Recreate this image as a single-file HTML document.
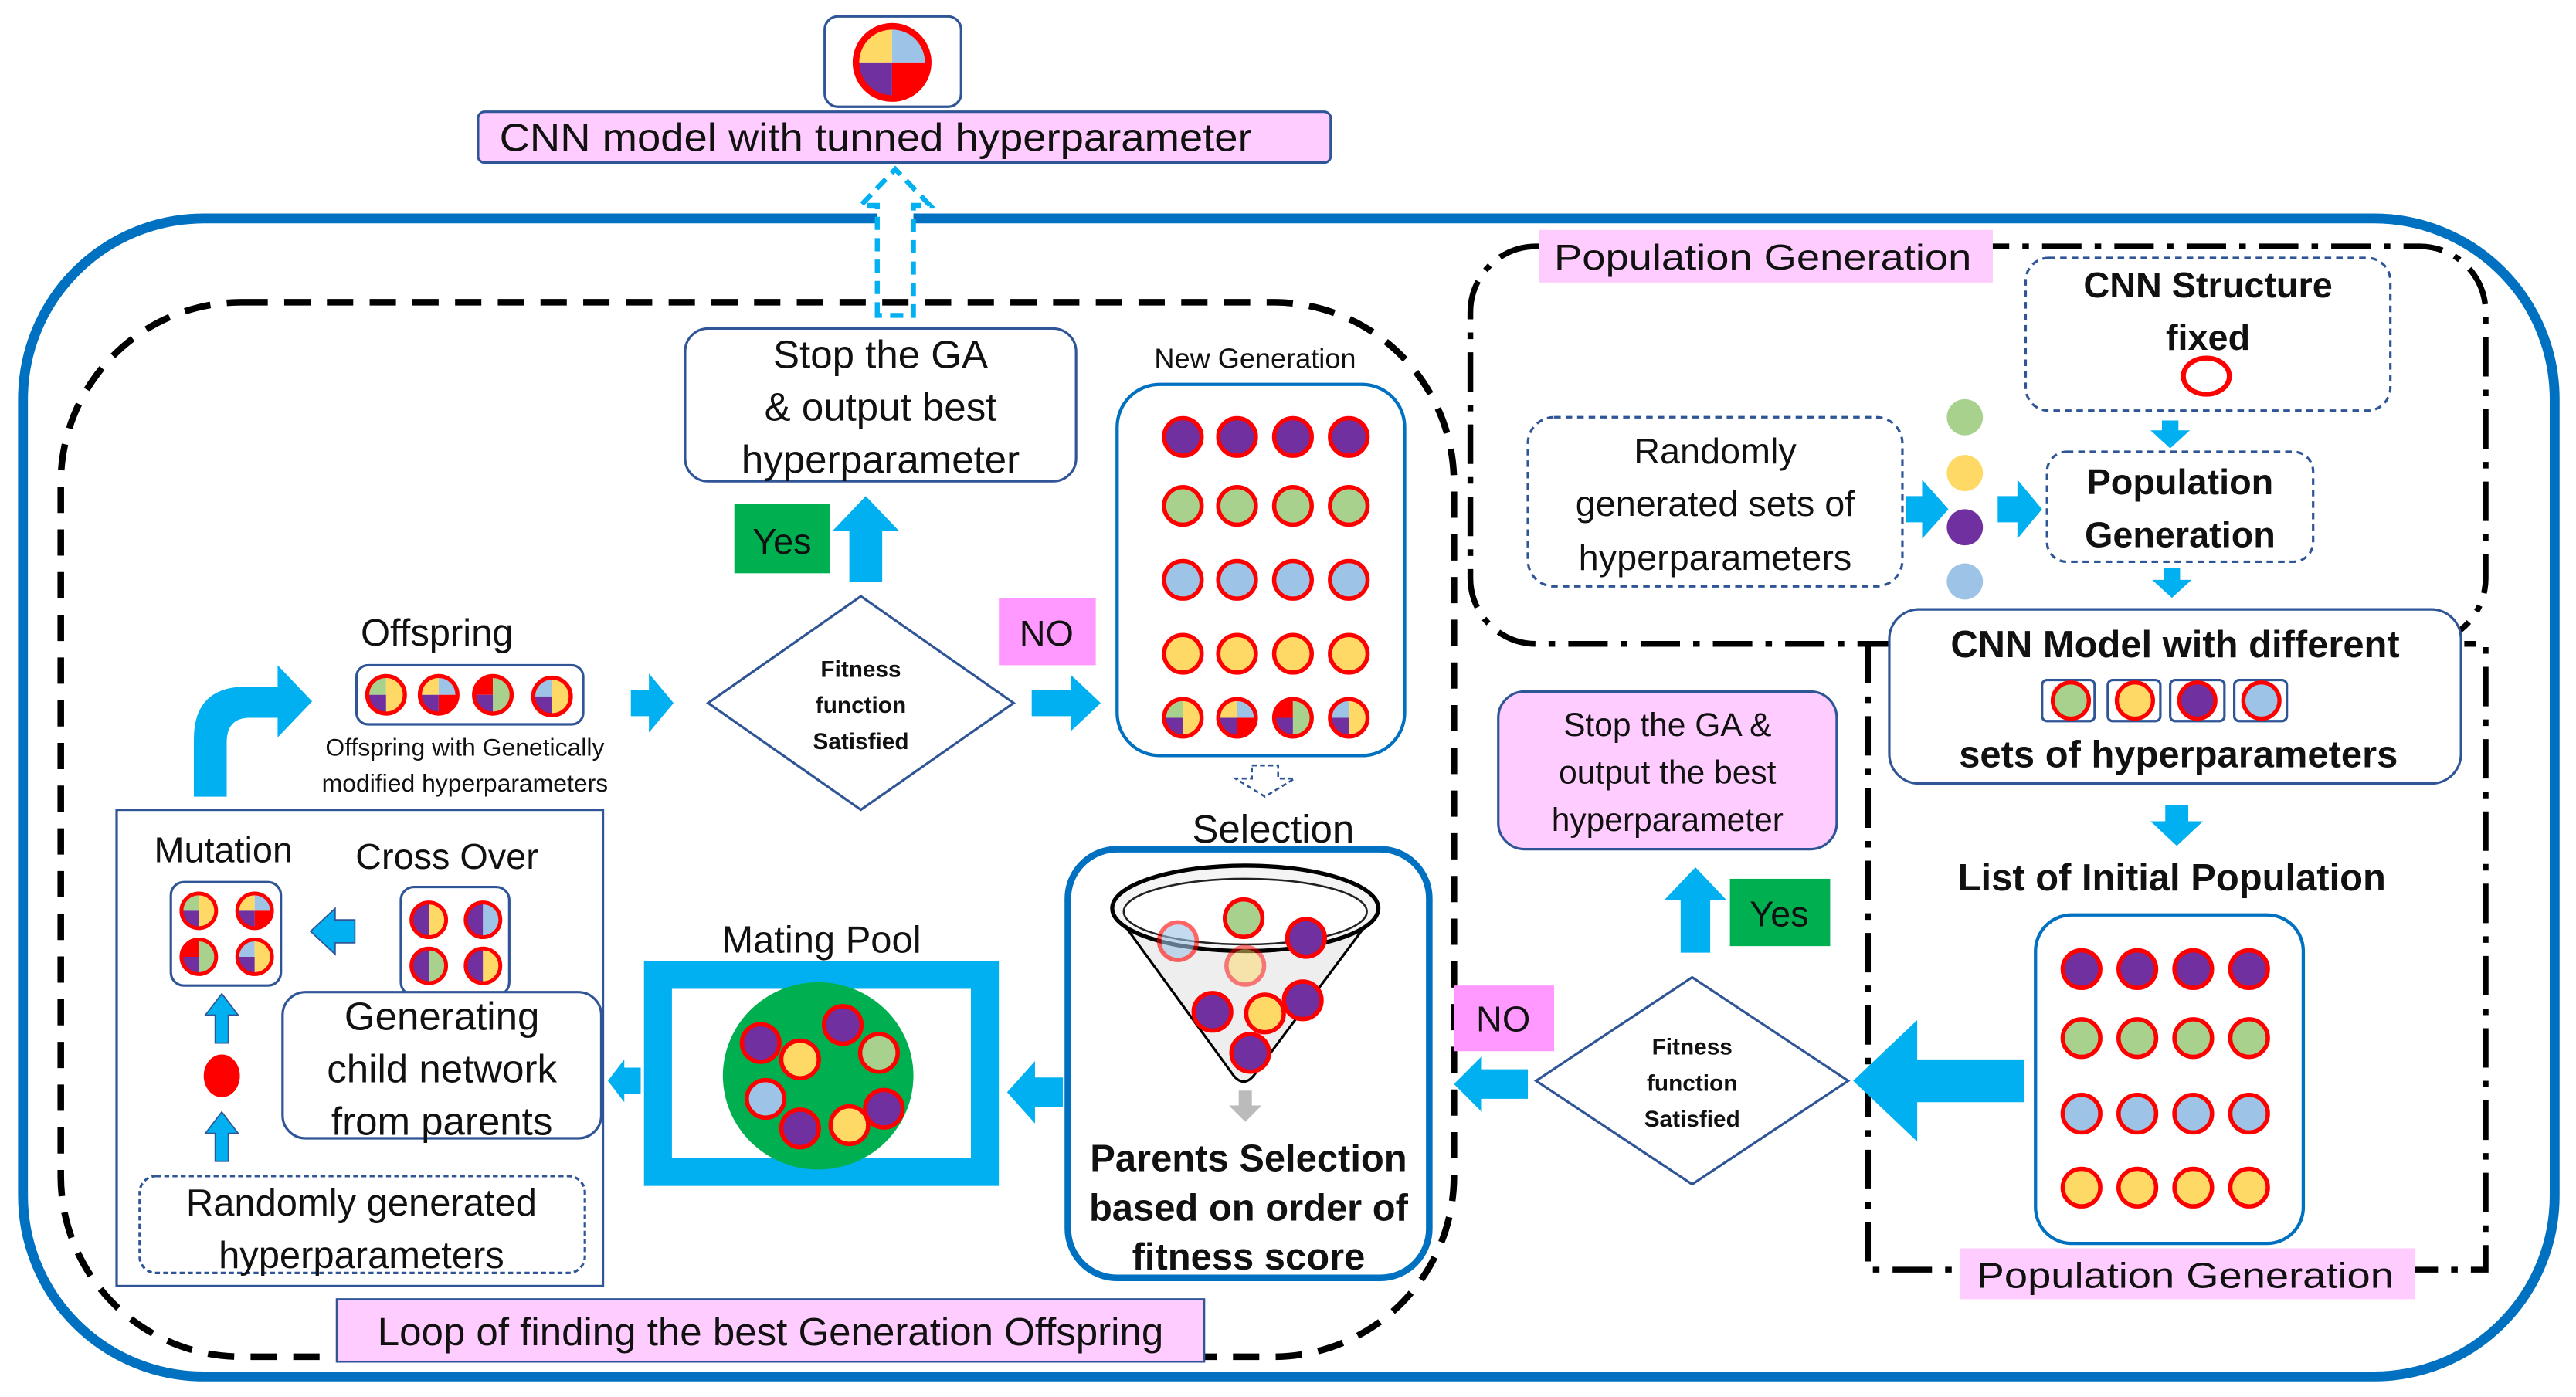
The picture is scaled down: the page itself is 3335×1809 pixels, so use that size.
<!DOCTYPE html>
<html><head><meta charset="utf-8"><style>
html,body{margin:0;padding:0;background:#fff;}
svg{display:block;}
text{font-family:"Liberation Sans",sans-serif;fill:#111;}
</style></head><body>
<svg width="3335" height="1809" viewBox="0 0 1568 850.5" xmlns="http://www.w3.org/2000/svg">
<defs>
<symbol id="sP" viewBox="-1 -1 2 2"><ellipse cx="0" cy="0" rx="0.88" ry="0.88" fill="#7030a0" stroke="#f00" stroke-width="0.2"/></symbol>
<symbol id="sG" viewBox="-1 -1 2 2"><ellipse cx="0" cy="0" rx="0.88" ry="0.88" fill="#a9d18e" stroke="#f00" stroke-width="0.2"/></symbol>
<symbol id="sB" viewBox="-1 -1 2 2"><ellipse cx="0" cy="0" rx="0.88" ry="0.88" fill="#9dc3e6" stroke="#f00" stroke-width="0.2"/></symbol>
<symbol id="sY" viewBox="-1 -1 2 2"><ellipse cx="0" cy="0" rx="0.88" ry="0.88" fill="#ffd966" stroke="#f00" stroke-width="0.2"/></symbol>
<symbol id="o1" viewBox="-1 -1 2 2"><g transform="scale(0.88)">
<path d="M0,0 L-1,0 A1,1 0 0,1 0,-1Z" fill="#a9d18e"/><path d="M0,-1 A1,1 0 0,1 0,1Z" fill="#ffd966"/><path d="M0,0 L0,1 A1,1 0 0,1 -1,0Z" fill="#7030a0"/>
<circle r="1" fill="none" stroke="#f00" stroke-width="0.22"/></g></symbol>
<symbol id="o2" viewBox="-1 -1 2 2"><g transform="scale(0.88)">
<path d="M0,0 L-1,0 A1,1 0 0,1 0,-1Z" fill="#ffd966"/><path d="M0,0 L0,-1 A1,1 0 0,1 1,0Z" fill="#9dc3e6"/><path d="M0,0 L1,0 A1,1 0 0,1 0,1Z" fill="#f00"/><path d="M0,0 L0,1 A1,1 0 0,1 -1,0Z" fill="#7030a0"/>
<circle r="1" fill="none" stroke="#f00" stroke-width="0.22"/></g></symbol>
<symbol id="o3" viewBox="-1 -1 2 2"><g transform="scale(0.88)">
<path d="M0,0 L-1,0 A1,1 0 0,1 0,-1Z" fill="#f00"/><path d="M0,-1 A1,1 0 0,1 0,1Z" fill="#a9d18e"/><path d="M0,0 L0,1 A1,1 0 0,1 -1,0Z" fill="#7030a0"/>
<circle r="1" fill="none" stroke="#f00" stroke-width="0.22"/></g></symbol>
<symbol id="o4" viewBox="-1 -1 2 2"><g transform="scale(0.88)">
<path d="M0,0 L-1,0 A1,1 0 0,1 0,-1Z" fill="#9dc3e6"/><path d="M0,-1 A1,1 0 0,1 0,1Z" fill="#ffd966"/><path d="M0,0 L0,1 A1,1 0 0,1 -1,0Z" fill="#7030a0"/>
<circle r="1" fill="none" stroke="#f00" stroke-width="0.22"/></g></symbol>
<symbol id="h1" viewBox="-1 -1 2 2"><g transform="scale(0.88)"><path d="M0,-1 A1,1 0 0,0 0,1Z" fill="#7030a0"/><path d="M0,-1 A1,1 0 0,1 0,1Z" fill="#ffd966"/><circle r="1" fill="none" stroke="#f00" stroke-width="0.22"/></g></symbol>
<symbol id="h2" viewBox="-1 -1 2 2"><g transform="scale(0.88)"><path d="M0,-1 A1,1 0 0,0 0,1Z" fill="#7030a0"/><path d="M0,-1 A1,1 0 0,1 0,1Z" fill="#9dc3e6"/><circle r="1" fill="none" stroke="#f00" stroke-width="0.22"/></g></symbol>
<symbol id="h3" viewBox="-1 -1 2 2"><g transform="scale(0.88)"><path d="M0,-1 A1,1 0 0,0 0,1Z" fill="#7030a0"/><path d="M0,-1 A1,1 0 0,1 0,1Z" fill="#a9d18e"/><circle r="1" fill="none" stroke="#f00" stroke-width="0.22"/></g></symbol>
</defs>

<rect x="14" y="133" width="1541" height="705" rx="110" fill="none" stroke="#0070c0" stroke-width="6"/>

<rect x="502" y="10" width="83" height="55" rx="8" fill="#fff" stroke="#2f5597" stroke-width="1.5"/>
<g transform="translate(543,38)">
<path d="M0,0 L-22,0 A22,22 0 0,1 0,-22Z" fill="#ffd966"/><path d="M0,0 L0,-22 A22,22 0 0,1 22,0Z" fill="#9dc3e6"/><path d="M0,0 L22,0 A22,22 0 0,1 0,22Z" fill="#f00"/><path d="M0,0 L0,22 A22,22 0 0,1 -22,0Z" fill="#7030a0"/>
<circle r="22" fill="none" stroke="#f00" stroke-width="4"/></g>
<rect x="291" y="68" width="519" height="31" rx="4" fill="#ffccff" stroke="#2f5597" stroke-width="1.5"/>
<text x="304" y="92" font-size="24" textLength="458" lengthAdjust="spacingAndGlyphs">CNN model with tunned hyperparameter</text>
<path d="M534,192 V125 H524 L545,103 L566,125 H556 V192 Z" fill="#fff" stroke="#00b0f0" stroke-width="3" stroke-dasharray="8,5"/>

<rect x="37" y="184" width="848" height="642" rx="110" fill="none" stroke="#000" stroke-width="4" stroke-dasharray="16,10"/>

<rect x="895" y="150" width="618" height="242" rx="40" fill="none" stroke="#000" stroke-width="3.5" stroke-dasharray="24,8,4,8"/>
<path d="M1137,392 V773 H1513 V392 H1500" fill="none" stroke="#000" stroke-width="3.5" stroke-dasharray="24,8,4,8"/>
<rect x="937" y="140" width="276" height="32" fill="#ffccff"/>
<text x="946" y="164" font-size="22" textLength="254" lengthAdjust="spacingAndGlyphs">Population Generation</text>

<rect x="1233" y="157" width="222" height="93" rx="14" fill="#fff" stroke="#2f5597" stroke-width="1.5" stroke-dasharray="4,3"/>
<text x="1344" y="181" font-size="22" font-weight="bold" text-anchor="middle">CNN Structure</text>
<text x="1344" y="213" font-size="22" font-weight="bold" text-anchor="middle">fixed</text>
<ellipse cx="1343" cy="229" rx="14" ry="11" fill="none" stroke="#f00" stroke-width="3"/>

<rect x="930" y="254" width="228" height="103" rx="16" fill="#fff" stroke="#2f5597" stroke-width="1.5" stroke-dasharray="4,3"/>
<text x="1044" y="282" font-size="22" text-anchor="middle">Randomly</text>
<text x="1044" y="314" font-size="22" text-anchor="middle">generated sets of</text>
<text x="1044" y="347" font-size="22" text-anchor="middle">hyperparameters</text>
<circle cx="1196" cy="254" r="11" fill="#a9d18e"/>
<circle cx="1196" cy="288" r="11" fill="#ffd966"/>
<circle cx="1196" cy="321" r="11" fill="#7030a0"/>
<circle cx="1196" cy="354" r="11" fill="#9dc3e6"/>
<polygon points="1160,302 1170,302 1170,292 1186,310 1170,328 1170,318 1160,318" fill="#00b0f0"/>
<polygon points="1216,302 1228,302 1228,292 1243,310 1228,328 1228,318 1216,318" fill="#00b0f0"/>
<rect x="1246" y="275" width="162" height="67" rx="12" fill="#fff" stroke="#2f5597" stroke-width="1.5" stroke-dasharray="4,3"/>
<text x="1327" y="301" font-size="22" font-weight="bold" text-anchor="middle">Population</text>
<text x="1327" y="333" font-size="22" font-weight="bold" text-anchor="middle">Generation</text>
<polygon points="1316,256 1326,256 1326,262 1333,262 1321,273 1309,262 1316,262" fill="#00b0f0"/>
<polygon points="1317,346 1327,346 1327,353 1334,353 1322,364 1310,353 1317,353" fill="#00b0f0"/>

<rect x="1150" y="371" width="348" height="106" rx="18" fill="#fff" stroke="#2f5597" stroke-width="1.5"/>
<text x="1324" y="400" font-size="23" font-weight="bold" text-anchor="middle">CNN Model with different</text>
<rect x="1243" y="414" width="32" height="25" rx="3" fill="#fff" stroke="#2f5597" stroke-width="1.5"/>
<rect x="1283" y="414" width="32" height="25" rx="3" fill="#fff" stroke="#2f5597" stroke-width="1.5"/>
<rect x="1321" y="414" width="33" height="25" rx="3" fill="#fff" stroke="#2f5597" stroke-width="1.5"/>
<rect x="1360" y="414" width="32" height="25" rx="3" fill="#fff" stroke="#2f5597" stroke-width="1.5"/>
<use href="#sG" x="1248" y="414" width="25" height="25"/>
<use href="#sY" x="1287" y="414" width="25" height="25"/>
<use href="#sP" x="1325" y="414" width="25" height="25"/>
<use href="#sB" x="1364" y="414" width="25" height="25"/>
<text x="1326" y="467" font-size="23" font-weight="bold" text-anchor="middle">sets of hyperparameters</text>
<polygon points="1318,490 1332,490 1332,500 1341,500 1325,515 1309,500 1318,500" fill="#00b0f0"/>
<text x="1322" y="542" font-size="23" font-weight="bold" text-anchor="middle">List of Initial Population</text>

<rect x="1239" y="557" width="163" height="200" rx="22" fill="#fff" stroke="#0070c0" stroke-width="2"/>
<g>
<use href="#sP" x="1254" y="577" width="26" height="26"/><use href="#sP" x="1288" y="577" width="26" height="26"/><use href="#sP" x="1322" y="577" width="26" height="26"/><use href="#sP" x="1356" y="577" width="26" height="26"/>
<use href="#sG" x="1254" y="619" width="26" height="26"/><use href="#sG" x="1288" y="619" width="26" height="26"/><use href="#sG" x="1322" y="619" width="26" height="26"/><use href="#sG" x="1356" y="619" width="26" height="26"/>
<use href="#sB" x="1254" y="665" width="26" height="26"/><use href="#sB" x="1288" y="665" width="26" height="26"/><use href="#sB" x="1322" y="665" width="26" height="26"/><use href="#sB" x="1356" y="665" width="26" height="26"/>
<use href="#sY" x="1254" y="710" width="26" height="26"/><use href="#sY" x="1288" y="710" width="26" height="26"/><use href="#sY" x="1322" y="710" width="26" height="26"/><use href="#sY" x="1356" y="710" width="26" height="26"/>
</g>
<rect x="1193" y="760" width="277" height="31" fill="#ffccff"/>
<text x="1203" y="784" font-size="22" textLength="254" lengthAdjust="spacingAndGlyphs">Population Generation</text>

<polygon points="1232,645 1167,645 1167,621 1128,658 1167,695 1167,671 1232,671" fill="#00b0f0"/>
<polygon points="1030,595 1125,658 1030,721 935,658" fill="#fff" stroke="#2f5597" stroke-width="1.5"/>
<text x="1030" y="642" font-size="14" font-weight="bold" text-anchor="middle">Fitness</text>
<text x="1030" y="664" font-size="14" font-weight="bold" text-anchor="middle">function</text>
<text x="1030" y="686" font-size="14" font-weight="bold" text-anchor="middle">Satisfied</text>
<rect x="885" y="600" width="61" height="40" fill="#ff99ff"/>
<text x="915" y="628" font-size="22" text-anchor="middle">NO</text>
<polygon points="930,651 902,651 902,643 885,660 902,677 902,669 930,669" fill="#00b0f0"/>
<rect x="1053" y="535" width="61" height="41" fill="#00b050"/>
<text x="1083" y="564" font-size="22" text-anchor="middle">Yes</text>
<polygon points="1023,580 1041,580 1041,548 1051,548 1032,528 1013,548 1023,548" fill="#00b0f0"/>
<rect x="912" y="421" width="206" height="96" rx="16" fill="#ffccff" stroke="#2f5597" stroke-width="1.5"/>
<text x="1015" y="448" font-size="20" text-anchor="middle">Stop the GA &amp;</text>
<text x="1015" y="477" font-size="20" text-anchor="middle">output the best</text>
<text x="1015" y="506" font-size="20" text-anchor="middle">hyperparameter</text>

<rect x="417" y="200" width="238" height="93" rx="14" fill="#fff" stroke="#2f5597" stroke-width="1.5"/>
<text x="536" y="224" font-size="24" text-anchor="middle">Stop the GA</text>
<text x="536" y="256" font-size="24" text-anchor="middle">&amp; output best</text>
<text x="536" y="288" font-size="24" text-anchor="middle">hyperparameter</text>
<rect x="447" y="307" width="58" height="42" fill="#00b050"/>
<text x="476" y="337" font-size="22" text-anchor="middle">Yes</text>
<polygon points="517,354 537,354 537,323 547,323 527,302 507,323 517,323" fill="#00b0f0"/>
<polygon points="524,363 617,428 524,493 431,428" fill="#fff" stroke="#2f5597" stroke-width="1.5"/>
<text x="524" y="412" font-size="14" font-weight="bold" text-anchor="middle">Fitness</text>
<text x="524" y="434" font-size="14" font-weight="bold" text-anchor="middle">function</text>
<text x="524" y="456" font-size="14" font-weight="bold" text-anchor="middle">Satisfied</text>
<rect x="608" y="364" width="59" height="41" fill="#ff99ff"/>
<text x="637" y="393" font-size="22" text-anchor="middle">NO</text>
<polygon points="628,420 652,420 652,411 670,428 652,445 652,436 628,436" fill="#00b0f0"/>
<polygon points="384,420 395,420 395,410 410,428 395,446 395,436 384,436" fill="#00b0f0"/>

<text x="764" y="224" font-size="17" text-anchor="middle">New Generation</text>
<rect x="680" y="234" width="175" height="226" rx="26" fill="#fff" stroke="#0070c0" stroke-width="2"/>
<g>
<use href="#sP" x="707" y="252" width="26" height="28"/><use href="#sP" x="740" y="252" width="26" height="28"/><use href="#sP" x="774" y="252" width="26" height="28"/><use href="#sP" x="808" y="252" width="26" height="28"/>
<use href="#sG" x="707" y="294" width="26" height="28"/><use href="#sG" x="740" y="294" width="26" height="28"/><use href="#sG" x="774" y="294" width="26" height="28"/><use href="#sG" x="808" y="294" width="26" height="28"/>
<use href="#sB" x="707" y="339" width="26" height="28"/><use href="#sB" x="740" y="339" width="26" height="28"/><use href="#sB" x="774" y="339" width="26" height="28"/><use href="#sB" x="808" y="339" width="26" height="28"/>
<use href="#sY" x="707" y="384" width="26" height="28"/><use href="#sY" x="740" y="384" width="26" height="28"/><use href="#sY" x="774" y="384" width="26" height="28"/><use href="#sY" x="808" y="384" width="26" height="28"/>
<use href="#o1" x="707" y="423" width="26" height="28"/><use href="#o2" x="740" y="423" width="26" height="28"/><use href="#o3" x="774" y="423" width="26" height="28"/><use href="#o4" x="808" y="423" width="26" height="28"/>
</g>
<path d="M762,466 H778 V474 H788 L770,485 L752,474 H762 Z" fill="#fff" stroke="#2f5597" stroke-width="1.2" stroke-dasharray="3,2"/>
<text x="775" y="513" font-size="24" text-anchor="middle">Selection</text>

<rect x="650" y="517" width="220" height="261" rx="30" fill="#fff" stroke="#0070c0" stroke-width="4"/>
<path d="M677,553 L751,655 Q757,662 763,655 L839,553 Z" fill="#eee" stroke="#000" stroke-width="1.5"/>
<ellipse cx="758" cy="553" rx="81" ry="26" fill="#f4f4f4" stroke="#000" stroke-width="2.5"/>
<ellipse cx="758" cy="555" rx="74" ry="20" fill="#fff" stroke="#222" stroke-width="1.2"/>
<use href="#sB" x="704" y="559" width="26" height="28" opacity="0.6"/>
<use href="#sG" x="744" y="545" width="26" height="28"/>
<use href="#sP" x="782" y="557" width="26" height="28"/>
<use href="#sY" x="745" y="574" width="26" height="28" opacity="0.5"/>
<use href="#sP" x="725" y="602" width="26" height="28"/>
<use href="#sY" x="757" y="603" width="26" height="28"/>
<use href="#sP" x="780" y="595" width="26" height="28"/>
<use href="#sP" x="748" y="627" width="26" height="28"/>
<polygon points="754,664 762,664 762,673 768,673 758,683 748,673 754,673" fill="#bbb"/>
<text x="760" y="713" font-size="23" font-weight="bold" text-anchor="middle">Parents Selection</text>
<text x="760" y="743" font-size="23" font-weight="bold" text-anchor="middle">based on order of</text>
<text x="760" y="773" font-size="23" font-weight="bold" text-anchor="middle">fitness score</text>
<polygon points="647,656 630,656 630,646 613,665 630,684 630,674 647,674" fill="#00b0f0"/>

<text x="500" y="580" font-size="23" text-anchor="middle">Mating Pool</text>
<rect x="400.5" y="593.5" width="199" height="120" fill="#fff" stroke="#00b0f0" stroke-width="17"/>
<ellipse cx="498" cy="655" rx="58" ry="57" fill="#00b050"/>
<use href="#sP" x="450" y="620" width="26" height="30"/>
<use href="#sP" x="500" y="608" width="26" height="32"/>
<use href="#sY" x="474" y="630" width="26" height="30"/>
<use href="#sG" x="522" y="626" width="26" height="30"/>
<use href="#sB" x="453" y="654" width="26" height="30"/>
<use href="#sP" x="525" y="660" width="26" height="30"/>
<use href="#sP" x="474" y="672" width="26" height="30"/>
<use href="#sY" x="504" y="670" width="26" height="30"/>
<polygon points="390,650 380,650 380,645 370,658 380,671 380,666 390,666" fill="#00b0f0"/>

<rect x="71" y="493" width="296" height="290" fill="#fff" stroke="#2f5597" stroke-width="1.5"/>
<text x="136" y="525" font-size="22" text-anchor="middle">Mutation</text>
<text x="272" y="529" font-size="22" text-anchor="middle">Cross Over</text>
<rect x="104" y="537" width="67" height="63" rx="8" fill="#fff" stroke="#2f5597" stroke-width="1.5"/>
<use href="#o1" x="109" y="541" width="24" height="27"/><use href="#o2" x="143" y="541" width="24" height="27"/>
<use href="#o3" x="109" y="569" width="24" height="27"/><use href="#o4" x="143" y="569" width="24" height="27"/>
<rect x="244" y="540" width="66" height="66" rx="8" fill="#fff" stroke="#2f5597" stroke-width="1.5"/>
<use href="#h1" x="249" y="546" width="24" height="28"/><use href="#h2" x="282" y="546" width="24" height="28"/>
<use href="#h3" x="249" y="574" width="24" height="28"/><use href="#h1" x="282" y="574" width="24" height="28"/>
<polygon points="216,560 204,560 204,553 189,567 204,581 204,574 216,574" fill="#00b0f0" stroke="#2f5597" stroke-width="0.8"/>
<rect x="172" y="604" width="194" height="89" rx="14" fill="#fff" stroke="#2f5597" stroke-width="1.5"/>
<text x="269" y="627" font-size="24" text-anchor="middle">Generating</text>
<text x="269" y="659" font-size="24" text-anchor="middle">child network</text>
<text x="269" y="691" font-size="24" text-anchor="middle">from parents</text>
<polygon points="131,635 139,635 139,618 145,618 135,605 125,618 131,618" fill="#00b0f0" stroke="#2f5597" stroke-width="0.8"/>
<ellipse cx="135" cy="655" rx="11" ry="13" fill="#f00"/>
<polygon points="131,707 139,707 139,690 145,690 135,677 125,690 131,690" fill="#00b0f0" stroke="#2f5597" stroke-width="0.8"/>
<rect x="85" y="716" width="271" height="59" rx="10" fill="#fff" stroke="#2f5597" stroke-width="1.5" stroke-dasharray="3,2"/>
<text x="220" y="740" font-size="23" text-anchor="middle">Randomly generated</text>
<text x="220" y="772" font-size="23" text-anchor="middle">hyperparameters</text>

<text x="266" y="393" font-size="23" text-anchor="middle">Offspring</text>
<rect x="217" y="405" width="138" height="36" rx="7" fill="#fff" stroke="#2f5597" stroke-width="1.5"/>
<use href="#o1" x="222" y="408" width="26" height="30"/><use href="#o2" x="254" y="408" width="26" height="30"/>
<use href="#o3" x="287" y="408" width="26" height="30"/><use href="#o4" x="323" y="409" width="26" height="30"/>
<text x="283" y="460" font-size="15" text-anchor="middle">Offspring with Genetically</text>
<text x="283" y="482" font-size="15" text-anchor="middle">modified hyperparameters</text>
<path d="M118,485 V450 Q118,418 150,418 H169 V405 L190,427 L169,449 V437 H152 Q138,437 138,452 V485 Z" fill="#00b0f0"/>

<rect x="205" y="791" width="528" height="38" fill="#ffccff" stroke="#2f5597" stroke-width="1.2"/>
<text x="469" y="819" font-size="24" text-anchor="middle">Loop of finding the best Generation Offspring</text>
</svg>
</body></html>
